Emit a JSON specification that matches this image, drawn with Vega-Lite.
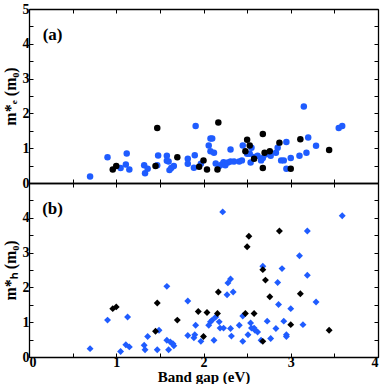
{
  "$schema": "https://vega.github.io/schema/vega-lite/v6.json",
  "padding": {"left": 2, "top": 2, "right": 3, "bottom": 0},
  "background": "white",
  "spacing": 0,
  "bounds": "flush",
  "config": {
    "view": {"stroke": null},
    "font": "Liberation Serif",
    "axis": {
      "domainColor": "black", "domainWidth": 1.3, "tickColor": "black", "tickWidth": 1,
      "labelFont": "Liberation Serif", "labelFontWeight": "bold", "labelFontSize": 14, "labelColor": "black",
      "titleFont": "Liberation Serif", "titleFontWeight": "bold", "titleFontSize": 15, "titleColor": "black",
      "grid": false
    }
  },
  "datasets": {
    "a": [
      {"gap": 0.70, "m": 0.19, "set": "blue"}, {"gap": 0.90, "m": 0.74, "set": "blue"}, {"gap": 1.05, "m": 0.43, "set": "blue"},
      {"gap": 1.11, "m": 0.53, "set": "blue"}, {"gap": 1.12, "m": 0.85, "set": "blue"}, {"gap": 1.15, "m": 0.39, "set": "blue"},
      {"gap": 1.32, "m": 0.51, "set": "blue"}, {"gap": 1.33, "m": 0.28, "set": "blue"}, {"gap": 1.36, "m": 0.41, "set": "blue"},
      {"gap": 1.47, "m": 0.51, "set": "blue"}, {"gap": 1.48, "m": 0.79, "set": "blue"}, {"gap": 1.58, "m": 0.78, "set": "blue"},
      {"gap": 1.58, "m": 0.64, "set": "blue"}, {"gap": 1.60, "m": 0.62, "set": "blue"}, {"gap": 1.61, "m": 0.37, "set": "blue"},
      {"gap": 1.63, "m": 0.43, "set": "blue"}, {"gap": 1.66, "m": 0.49, "set": "blue"}, {"gap": 1.82, "m": 0.70, "set": "blue"},
      {"gap": 1.82, "m": 0.55, "set": "blue"}, {"gap": 1.89, "m": 0.44, "set": "blue"}, {"gap": 1.90, "m": 0.80, "set": "blue"},
      {"gap": 1.91, "m": 1.64, "set": "blue"}, {"gap": 1.97, "m": 0.55, "set": "blue"}, {"gap": 2.06, "m": 1.08, "set": "blue"},
      {"gap": 2.08, "m": 1.28, "set": "blue"}, {"gap": 2.10, "m": 1.28, "set": "blue"}, {"gap": 2.08, "m": 0.91, "set": "blue"},
      {"gap": 2.12, "m": 0.87, "set": "blue"}, {"gap": 2.14, "m": 0.56, "set": "blue"}, {"gap": 2.18, "m": 0.49, "set": "blue"},
      {"gap": 2.21, "m": 0.53, "set": "blue"}, {"gap": 2.23, "m": 0.60, "set": "blue"}, {"gap": 2.25, "m": 0.51, "set": "blue"},
      {"gap": 2.28, "m": 0.59, "set": "blue"}, {"gap": 2.31, "m": 0.96, "set": "blue"}, {"gap": 2.31, "m": 0.62, "set": "blue"},
      {"gap": 2.35, "m": 0.62, "set": "blue"}, {"gap": 2.41, "m": 0.62, "set": "blue"}, {"gap": 2.44, "m": 0.65, "set": "blue"},
      {"gap": 2.45, "m": 1.08, "set": "blue"}, {"gap": 2.50, "m": 0.84, "set": "blue"}, {"gap": 2.53, "m": 0.84, "set": "blue"},
      {"gap": 2.54, "m": 0.59, "set": "blue"}, {"gap": 2.55, "m": 1.01, "set": "blue"}, {"gap": 2.58, "m": 0.75, "set": "blue"},
      {"gap": 2.62, "m": 0.78, "set": "blue"}, {"gap": 2.66, "m": 0.65, "set": "blue"}, {"gap": 2.68, "m": 0.72, "set": "blue"},
      {"gap": 2.71, "m": 0.82, "set": "blue"}, {"gap": 2.77, "m": 0.78, "set": "blue"}, {"gap": 2.83, "m": 0.87, "set": "blue"},
      {"gap": 2.85, "m": 1.01, "set": "blue"}, {"gap": 2.89, "m": 0.65, "set": "blue"}, {"gap": 2.92, "m": 0.65, "set": "blue"},
      {"gap": 2.95, "m": 1.18, "set": "blue"}, {"gap": 2.95, "m": 0.41, "set": "blue"}, {"gap": 3.00, "m": 0.72, "set": "blue"},
      {"gap": 3.10, "m": 0.78, "set": "blue"}, {"gap": 3.15, "m": 2.20, "set": "blue"}, {"gap": 3.18, "m": 0.87, "set": "blue"},
      {"gap": 3.20, "m": 1.31, "set": "blue"}, {"gap": 3.29, "m": 1.07, "set": "blue"}, {"gap": 3.55, "m": 1.58, "set": "blue"},
      {"gap": 3.59, "m": 1.64, "set": "blue"},
      {"gap": 0.96, "m": 0.39, "set": "black"}, {"gap": 1.00, "m": 0.49, "set": "black"}, {"gap": 1.45, "m": 0.49, "set": "black"},
      {"gap": 1.47, "m": 1.58, "set": "black"}, {"gap": 1.70, "m": 0.74, "set": "black"}, {"gap": 1.95, "m": 0.47, "set": "black"},
      {"gap": 2.00, "m": 0.65, "set": "black"}, {"gap": 2.04, "m": 0.39, "set": "black"}, {"gap": 2.17, "m": 1.74, "set": "black"},
      {"gap": 2.16, "m": 0.39, "set": "black"}, {"gap": 2.48, "m": 0.91, "set": "black"}, {"gap": 2.50, "m": 1.24, "set": "black"},
      {"gap": 2.53, "m": 1.08, "set": "black"}, {"gap": 2.68, "m": 1.41, "set": "black"}, {"gap": 2.68, "m": 0.43, "set": "black"},
      {"gap": 2.70, "m": 0.87, "set": "black"}, {"gap": 2.76, "m": 0.91, "set": "black"}, {"gap": 2.87, "m": 1.16, "set": "black"},
      {"gap": 3.00, "m": 0.41, "set": "black"}, {"gap": 3.11, "m": 1.26, "set": "black"}, {"gap": 3.44, "m": 0.95, "set": "black"},
      {"gap": 2.58, "m": 0.70, "set": "black"}
    ],
    "b": [
      {"gap": 0.70, "m": 0.24, "set": "blue"}, {"gap": 0.90, "m": 1.06, "set": "blue"}, {"gap": 1.05, "m": 0.16, "set": "blue"},
      {"gap": 1.11, "m": 0.35, "set": "blue"}, {"gap": 1.13, "m": 1.15, "set": "blue"}, {"gap": 1.15, "m": 0.29, "set": "blue"},
      {"gap": 1.32, "m": 0.34, "set": "blue"}, {"gap": 1.33, "m": 0.21, "set": "blue"}, {"gap": 1.36, "m": 0.59, "set": "blue"},
      {"gap": 1.47, "m": 0.21, "set": "blue"}, {"gap": 1.49, "m": 0.77, "set": "blue"}, {"gap": 1.58, "m": 2.03, "set": "blue"},
      {"gap": 1.58, "m": 0.48, "set": "blue"}, {"gap": 1.60, "m": 0.21, "set": "blue"}, {"gap": 1.62, "m": 0.43, "set": "blue"},
      {"gap": 1.65, "m": 0.38, "set": "blue"}, {"gap": 1.66, "m": 0.32, "set": "blue"}, {"gap": 1.82, "m": 1.61, "set": "blue"},
      {"gap": 1.82, "m": 0.62, "set": "blue"}, {"gap": 1.89, "m": 0.55, "set": "blue"}, {"gap": 1.90, "m": 0.64, "set": "blue"},
      {"gap": 1.91, "m": 0.91, "set": "blue"}, {"gap": 1.97, "m": 0.45, "set": "blue"}, {"gap": 2.06, "m": 0.91, "set": "blue"},
      {"gap": 2.08, "m": 1.01, "set": "blue"}, {"gap": 2.10, "m": 1.06, "set": "blue"}, {"gap": 2.12, "m": 0.48, "set": "blue"},
      {"gap": 2.14, "m": 1.15, "set": "blue"}, {"gap": 2.18, "m": 1.01, "set": "blue"}, {"gap": 2.19, "m": 0.83, "set": "blue"},
      {"gap": 2.22, "m": 4.17, "set": "blue"}, {"gap": 2.23, "m": 0.83, "set": "blue"}, {"gap": 2.27, "m": 1.79, "set": "blue"},
      {"gap": 2.28, "m": 2.13, "set": "blue"}, {"gap": 2.31, "m": 2.24, "set": "blue"}, {"gap": 2.31, "m": 0.82, "set": "blue"},
      {"gap": 2.32, "m": 0.60, "set": "blue"}, {"gap": 2.34, "m": 1.87, "set": "blue"}, {"gap": 2.41, "m": 0.91, "set": "blue"},
      {"gap": 2.45, "m": 1.18, "set": "blue"}, {"gap": 2.45, "m": 0.45, "set": "blue"}, {"gap": 2.51, "m": 0.64, "set": "blue"},
      {"gap": 2.54, "m": 0.98, "set": "blue"}, {"gap": 2.55, "m": 0.83, "set": "blue"}, {"gap": 2.58, "m": 0.83, "set": "blue"},
      {"gap": 2.59, "m": 0.77, "set": "blue"}, {"gap": 2.62, "m": 0.72, "set": "blue"}, {"gap": 2.66, "m": 0.48, "set": "blue"},
      {"gap": 2.68, "m": 2.61, "set": "blue"}, {"gap": 2.73, "m": 1.03, "set": "blue"}, {"gap": 2.77, "m": 0.53, "set": "blue"},
      {"gap": 2.83, "m": 0.82, "set": "blue"}, {"gap": 2.85, "m": 2.14, "set": "blue"}, {"gap": 2.86, "m": 1.51, "set": "blue"},
      {"gap": 2.90, "m": 2.54, "set": "blue"}, {"gap": 2.92, "m": 1.03, "set": "blue"}, {"gap": 2.95, "m": 0.64, "set": "blue"},
      {"gap": 2.95, "m": 0.59, "set": "blue"}, {"gap": 3.00, "m": 1.39, "set": "blue"}, {"gap": 3.10, "m": 2.91, "set": "blue"},
      {"gap": 3.14, "m": 0.93, "set": "blue"}, {"gap": 3.19, "m": 3.62, "set": "blue"}, {"gap": 3.19, "m": 2.35, "set": "blue"},
      {"gap": 3.29, "m": 1.58, "set": "blue"}, {"gap": 3.59, "m": 4.06, "set": "blue"},
      {"gap": 0.96, "m": 1.39, "set": "black"}, {"gap": 1.00, "m": 1.44, "set": "black"}, {"gap": 1.45, "m": 0.74, "set": "black"},
      {"gap": 1.47, "m": 1.55, "set": "black"}, {"gap": 1.70, "m": 1.06, "set": "black"}, {"gap": 1.94, "m": 1.31, "set": "black"},
      {"gap": 2.00, "m": 0.59, "set": "black"}, {"gap": 2.04, "m": 1.28, "set": "black"}, {"gap": 2.17, "m": 1.87, "set": "black"},
      {"gap": 2.16, "m": 1.25, "set": "black"}, {"gap": 2.48, "m": 1.25, "set": "black"}, {"gap": 2.50, "m": 3.17, "set": "black"},
      {"gap": 2.52, "m": 3.47, "set": "black"}, {"gap": 2.68, "m": 2.51, "set": "black"}, {"gap": 2.68, "m": 0.45, "set": "black"},
      {"gap": 2.71, "m": 2.21, "set": "black"}, {"gap": 2.76, "m": 1.73, "set": "black"}, {"gap": 2.87, "m": 3.62, "set": "black"},
      {"gap": 3.00, "m": 0.93, "set": "black"}, {"gap": 3.11, "m": 1.82, "set": "black"}, {"gap": 3.44, "m": 0.77, "set": "black"},
      {"gap": 2.58, "m": 1.25, "set": "black"}
    ],
    "labA": [{"gap": 0.27, "m": 4.25, "t": "(a)"}],
    "labB": [{"gap": 0.27, "m": 4.25, "t": "(b)"}]
  },
  "vconcat": [
    {
      "width": 349, "height": 174,
      "layer": [
        {
          "data": {"name": "a"},
          "mark": {"type": "circle", "size": 42, "opacity": 1},
          "encoding": {
            "x": {"field": "gap", "type": "quantitative", "scale": {"domain": [0, 4], "nice": false},
                  "axis": {"title": null, "values": [0, 0.5, 1, 1.5, 2, 2.5, 3, 3.5, 4], "labels": false, "tickSize": -4}},
            "y": {"field": "m", "type": "quantitative", "scale": {"domain": [0, 5], "nice": false},
                  "axis": {"title": "m*ₑ (m₀)", "titleFontSize": 16, "values": [0, 0.5, 1, 1.5, 2, 2.5, 3, 3.5, 4, 4.5, 5], "labelExpr": "datum.value % 1 == 0 ? format(datum.value, 'd') : ''", "tickSize": -4, "labelPadding": 4, "titlePadding": 4}},
            "color": {"field": "set", "type": "nominal", "scale": {"domain": ["blue", "black"], "range": ["#1f5cff", "#000000"]}, "legend": null}
          }
        },
        {
          "data": {"name": "labA"},
          "mark": {"type": "text", "font": "Liberation Serif", "fontWeight": "bold", "fontSize": 17, "color": "black"},
          "encoding": {
            "x": {"field": "gap", "type": "quantitative", "axis": {"orient": "top", "title": null, "labels": false, "values": [0, 0.5, 1, 1.5, 2, 2.5, 3, 3.5, 4], "tickSize": -4}},
            "y": {"field": "m", "type": "quantitative", "axis": {"orient": "right", "title": null, "labels": false, "values": [0, 0.5, 1, 1.5, 2, 2.5, 3, 3.5, 4, 4.5, 5], "tickSize": -4}},
            "text": {"field": "t"}
          }
        }
      ],
      "resolve": {"axis": {"x": "independent", "y": "independent"}}
    },
    {
      "width": 349, "height": 174,
      "layer": [
        {
          "data": {"name": "b"},
          "mark": {"type": "point", "shape": "diamond", "filled": true, "size": 48, "opacity": 1},
          "encoding": {
            "x": {"field": "gap", "type": "quantitative", "scale": {"domain": [0, 4], "nice": false},
                  "axis": {"title": "Band gap (eV)", "values": [0, 0.5, 1, 1.5, 2, 2.5, 3, 3.5, 4], "labelExpr": "datum.value % 1 == 0 ? format(datum.value, 'd') : ''", "tickSize": -4, "labelPadding": 2, "titlePadding": 0}},
            "y": {"field": "m", "type": "quantitative", "scale": {"domain": [0, 5], "nice": false},
                  "axis": {"title": "m*ₕ (m₀)", "titleFontSize": 16, "values": [0, 0.5, 1, 1.5, 2, 2.5, 3, 3.5, 4, 4.5], "labelExpr": "datum.value % 1 == 0 ? format(datum.value, 'd') : ''", "tickSize": -4, "labelPadding": 4, "titlePadding": 4}},
            "color": {"field": "set", "type": "nominal", "scale": {"domain": ["blue", "black"], "range": ["#1f5cff", "#000000"]}, "legend": null}
          }
        },
        {
          "data": {"name": "labB"},
          "mark": {"type": "text", "font": "Liberation Serif", "fontWeight": "bold", "fontSize": 17, "color": "black"},
          "encoding": {
            "x": {"field": "gap", "type": "quantitative", "axis": {"orient": "top", "title": null, "labels": false, "values": [0, 0.5, 1, 1.5, 2, 2.5, 3, 3.5, 4], "tickSize": -4}},
            "y": {"field": "m", "type": "quantitative", "axis": {"orient": "right", "title": null, "labels": false, "values": [0, 0.5, 1, 1.5, 2, 2.5, 3, 3.5, 4, 4.5], "tickSize": -4}},
            "text": {"field": "t"}
          }
        }
      ],
      "resolve": {"axis": {"x": "independent", "y": "independent"}}
    }
  ]
}
